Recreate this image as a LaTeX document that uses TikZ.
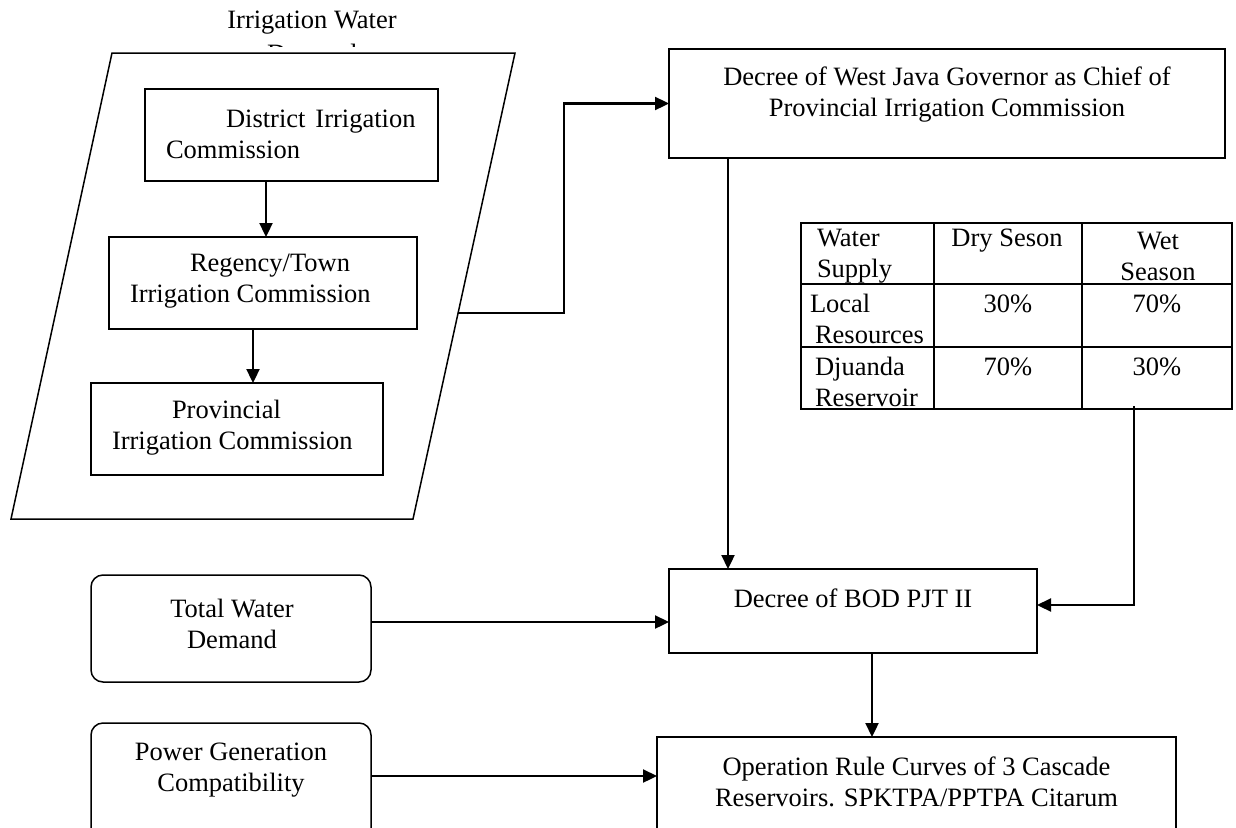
\documentclass[tikz,border=0pt]{standalone}
\usepackage{fontspec}
\setmainfont{Liberation Serif}
\usetikzlibrary{arrows.meta,calc,fit}
\begin{document}
\begin{tikzpicture}[x=1pt,y=-1pt,
  every node/.style={font=\fontsize{26.5}{31}\selectfont, inner sep=0pt, outer sep=0pt},
  box/.style={draw, line width=1.5pt, rectangle},
  rbox/.style={draw, line width=1.5pt, rounded corners=12pt},
  cell/.style={draw, line width=2.2pt},
  ctxt/.style={align=center},
  ltxt/.style={align=left, anchor=west},
  wire/.style={line width=2.3pt},
  conn/.style={line width=2.3pt, -{Triangle[length=14pt,width=13pt]}},
]
\useasboundingbox (0,0) rectangle (1236,827);

% heading of the commission group; its second line is hidden by the frame
\node[anchor=base] (ttl) at (312,28.6) {Irrigation Water};
\begin{scope}
  \clip (200,36) rectangle (420,46.5);
  \node[anchor=base] (ttlb) at (312,62) {Demand};
\end{scope}

% parallelogram frame around the commissions
\draw[line width=1.5pt] (112,53) -- (515,53) -- (413,519) -- (11,519) -- cycle;
\coordinate (frameout) at (458,313);

% commission boxes inside the frame
\node[box, fit={(145,89) (438,181)}] (dist) {};
\node[ltxt] (disttxt) at (166,134.5) {\hspace*{60pt}District\hspace{10pt}Irrigation\\Commission};
\node[box, fit={(109,237) (417,329)}] (reg) {};
\node[ltxt] (regtxt) at (130,281) {\hspace*{60pt}Regency/Town\\Irrigation Commission};
\node[box, fit={(91,383) (383,475)}] (prov) {};
\node[ltxt] (provtxt) at (112,427.5) {\hspace*{60pt}Provincial\\Irrigation Commission};

% decrees and rule curves
\node[box, fit={(669,49) (1225,158)}] (west) {};
\node[ctxt] (westtxt) at (947,94.5) {Decree of West Java Governor as Chief of\\Provincial Irrigation Commission};
\node[box, fit={(669,569) (1037,653)}] (bod) {};
\node[ctxt] (bodtxt) at (853,598.5) {Decree of BOD PJT II};
\node[box, fit={(657,737) (1176,850)}] (ops) {};
\node[ctxt] (opstxt) at (916.5,782) {Operation Rule Curves of 3 Cascade\\Reservoirs. SPKTPA/PPTPA Citarum};

% demand inputs
\node[rbox, fit={(91,575) (371,682)}] (total) {};
\node[ctxt] (totaltxt) at (232,624) {Total Water\\Demand};
\node[rbox, fit={(91,723) (371,850)}] (power) {};
\node[ctxt] (powertxt) at (231,770.5) {Power Generation\\Compatibility};

% water supply table
\node[cell, fit={(801,223) (1232,409)}] (tbl) {};
\draw[cell] (tbl.north -| 934,0) -- (tbl.south -| 934,0);
\draw[cell] (tbl.north -| 1082,0) -- (tbl.south -| 1082,0);
\draw[cell] (tbl.west |- 0,284) -- (tbl.east |- 0,284);
\draw[cell] (tbl.west |- 0,347) -- (tbl.east |- 0,347);
\node[ltxt] (h1) at (817,256) {Water\\Supply};
\node (h2) at (1007,241) {Dry Seson};
\node[ctxt] (h3) at (1158,256) {Wet\\Season};
\node[ltxt] (r1) at (810,319) {Local\\\hspace*{5pt}Resources};
\node (r1a) at (1008,303.5) {30\%};
\node (r1b) at (1157,303.5) {70\%};
\node[ltxt] (r2) at (815,382) {Djuanda\\Reservoir};
\node (r2a) at (1008,366.5) {70\%};
\node (r2b) at (1157,366.5) {30\%};
\coordinate (tblout) at (1134,406);

% connectors
\draw[conn] (dist.south -| 266,0) -- (reg.north -| 266,0);
\draw[conn] (reg.south -| 253,0) -- (prov.north -| 253,0);
\draw[conn] (frameout) -- (564,313) |- (west.west);
\draw[conn] (west.south -| 728,0) -- (bod.north -| 728,0);
\draw[conn] (tblout) |- (bod.east |- 0,605);
\draw[conn] (total.east |- 0,622) -- (bod.west |- 0,622);
\draw[conn] (bod.south -| 872,0) -- (ops.north -| 872,0);
\draw[conn] (power.east |- 0,776) -- (ops.west |- 0,776);
\end{tikzpicture}
\end{document}
